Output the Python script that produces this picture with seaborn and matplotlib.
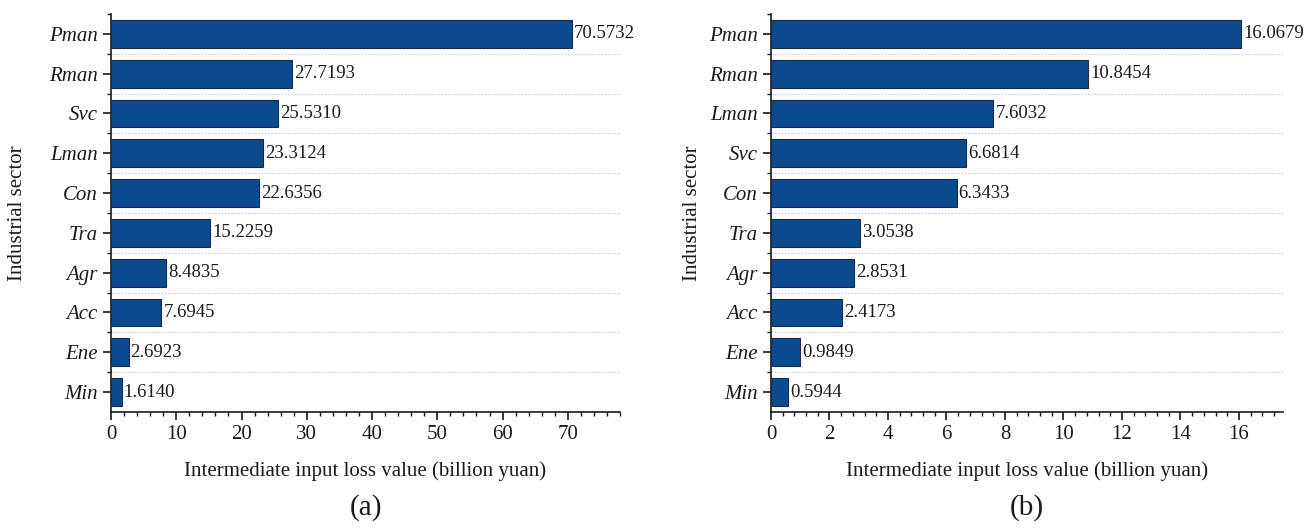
import matplotlib
matplotlib.use("Agg")
import matplotlib.pyplot as plt
from matplotlib.ticker import FixedLocator, MultipleLocator
import seaborn as sns
import pandas as pd

# Sector losses, panel (a)
sectors_a = ["Pman", "Rman", "Svc", "Lman", "Con", "Tra", "Agr", "Acc", "Ene", "Min"]
values_a = [70.5732, 27.7193, 25.5310, 23.3124, 22.6356, 15.2259, 8.4835, 7.6945, 2.6923, 1.6140]
labels_a = ["70.5732", "27.7193", "25.5310", "23.3124", "22.6356", "15.2259", "8.4835", "7.6945", "2.6923", "1.6140"]

# Sector losses, panel (b)
sectors_b = ["Pman", "Rman", "Lman", "Svc", "Con", "Tra", "Agr", "Acc", "Ene", "Min"]
values_b = [16.0679, 10.8454, 7.6032, 6.6814, 6.3433, 3.0538, 2.8531, 2.4173, 0.9849, 0.5944]
labels_b = ["16.0679", "10.8454", "7.6032", "6.6814", "6.3433", "3.0538", "2.8531", "2.4173", "0.9849", "0.5944"]

xticks_a = [0, 10, 20, 30, 40, 50, 60, 70]
xticks_b = [0, 2, 4, 6, 8, 10, 12, 14, 16]

sns.set_theme(style="white")
plt.rcParams["font.family"] = ["Liberation Serif", "DejaVu Serif"]

BAR = "#0a4a8e"
INK = "#1a1a1a"
FS = 15
FS_VAL = 13.5

fig = plt.figure(figsize=(13.09, 5.28), dpi=100)
ax_a = fig.add_axes([0.0848, 0.2197, 0.3889, 0.7538])
ax_b = fig.add_axes([0.589, 0.2197, 0.391, 0.7538])


def draw(ax, sectors, values, labels, xticks, xmax, minor, tag, ylab_x):
    n = len(sectors)
    df = pd.DataFrame({"sector": sectors, "value": values})
    sns.barplot(data=df, x="value", y="sector", orient="h", color=BAR,
                saturation=1, width=0.7, edgecolor="#1b2b44", linewidth=0.8,
                ax=ax, zorder=3)
    for patch, text in zip(ax.patches, labels):
        ax.text(patch.get_width() + xmax * 0.004, patch.get_y() + patch.get_height() / 2,
                text, va="center", ha="left", fontsize=FS_VAL, color=INK,
                clip_on=False)
    ax.set_xlim(0, xmax)
    ax.set_ylim(n - 0.5, -0.5)
    ax.set_xticks(xticks)
    ax.xaxis.set_minor_locator(MultipleLocator(minor))
    ax.set_yticks(range(n))
    ax.set_yticklabels(sectors, fontstyle="italic")
    ax.yaxis.set_minor_locator(FixedLocator([i + 0.5 for i in range(-1, n - 1)]))
    for spine in ("top", "right"):
        ax.spines[spine].set_visible(False)
    for spine in ("left", "bottom"):
        ax.spines[spine].set_color(INK)
        ax.spines[spine].set_linewidth(1.2)
    ax.tick_params(axis="both", which="major", direction="out", length=6, width=1.2,
                   color=INK, labelsize=FS, labelcolor=INK,
                   left=True, bottom=True)
    ax.tick_params(axis="x", which="minor", direction="out", length=3, width=1.0,
                   color=INK, bottom=True)
    ax.tick_params(axis="y", which="minor", direction="out", length=3, width=1.0,
                   color=INK, left=True)
    ax.grid(False)
    for b in range(n - 1):
        ax.axhline(b + 0.5, color="#cccccc", linestyle=(0, (1.5, 1.5)),
                   linewidth=0.8, zorder=0)
    ax.set_xlabel("Intermediate input loss value (billion yuan)", fontsize=FS,
                  color=INK, labelpad=12)
    ax.set_ylabel("Industrial sector", fontsize=FS, color=INK)
    ax.yaxis.set_label_coords(ylab_x, 0.5)
    ax.text(0.5, -0.205, tag, transform=ax.transAxes, ha="center", va="top",
            fontsize=21, color=INK)


draw(ax_a, sectors_a, values_a, labels_a, xticks_a, 78, 2, "(a)", -0.165)
draw(ax_b, sectors_b, values_b, labels_b, xticks_b, 17.5, 0.4, "(b)", -0.135)

fig.savefig("out.png", dpi=100, facecolor="white")
